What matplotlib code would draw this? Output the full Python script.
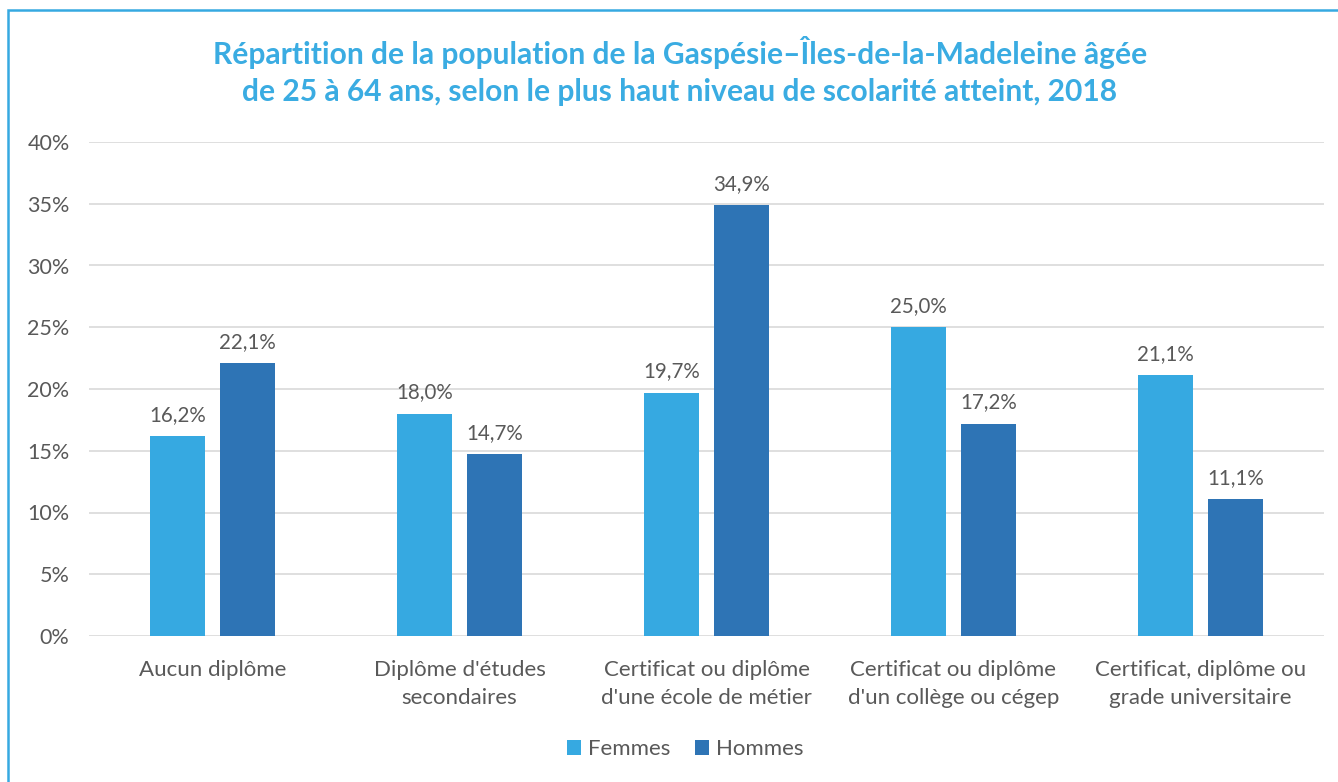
import numpy as np
import matplotlib
matplotlib.use("Agg")
import matplotlib.pyplot as plt
from matplotlib.patches import Rectangle

categories = ["Aucun diplôme",
              "Diplôme d'études\nsecondaires",
              "Certificat ou diplôme\nd'une école de métier",
              "Certificat ou diplôme\nd'un collège ou cégep",
              "Certificat, diplôme ou\ngrade universitaire"]
femmes = [16.2, 18.0, 19.7, 25.0, 21.1]
hommes = [22.1, 14.7, 34.9, 17.2, 11.1]
yticks = [0, 5, 10, 15, 20, 25, 30, 35, 40]

c_f = "#36A9E1"
c_h = "#2E74B5"
gray = "#595959"
plt.rcParams['font.family'] = ['Lato', 'DejaVu Sans']

fig = plt.figure(figsize=(13.38, 7.82), dpi=100)
W, H = 1338, 782
ax = fig.add_axes([89 / W, 1 - 636 / H, (1324 - 89) / W, (636 - 142) / H])

x = np.arange(len(categories))
bw = 0.223
off = 0.142
b1 = ax.bar(x - off, femmes, bw, color=c_f, label="Femmes", zorder=3)
b2 = ax.bar(x + off, hommes, bw, color=c_h, label="Hommes", zorder=3)

for bars, vals in ((b1, femmes), (b2, hommes)):
    for b, v in zip(bars, vals):
        ax.text(b.get_x() + b.get_width() / 2, v + 0.9,
                f"{v:.1f}%".replace(".", ","), ha="center", va="bottom",
                fontsize=14.8, color=gray)

ax.set_xlim(-0.5, len(categories) - 0.5)
ax.set_ylim(0, 40)
ax.set_yticks(yticks)
ax.set_yticklabels([f"{t}%" for t in yticks])
ax.set_xticks(x)
ax.set_xticklabels(categories, linespacing=1.5)
ax.tick_params(axis="y", length=0, labelsize=15.5, labelcolor=gray, pad=14)
ax.tick_params(axis="x", length=0, labelsize=16, labelcolor=gray, pad=17)
ax.grid(axis="y", color="#D9D9D9", linewidth=1.2, zorder=0)
for s in ax.spines.values():
    s.set_visible(False)

fig.text(680 / W, 1 - 71 / H,
         "Répartition de la population de la Gaspésie–Îles-de-la-Madeleine âgée\n"
         "de 25 à 64 ans, selon le plus haut niveau de scolarité atteint, 2018",
         ha="center", va="center", fontsize=21.6, fontweight="bold",
         color="#3AACE2", linespacing=1.4)

fig.legend(handles=[b1, b2], labels=["Femmes", "Hommes"], loc="center",
           bbox_to_anchor=(685 / W, 1 - 749 / H), ncol=2, frameon=False,
           fontsize=16, labelcolor=gray, handlelength=0.65, handleheight=0.65,
           handletextpad=0.3, columnspacing=1.1)

fig.patches.append(Rectangle((8 / W, -0.1), 1.2, 1 - 10 / H + 0.1,
                             transform=fig.transFigure, fill=False,
                             edgecolor="#36A9E1", linewidth=1.8))

fig.savefig("out.png", dpi=100)
